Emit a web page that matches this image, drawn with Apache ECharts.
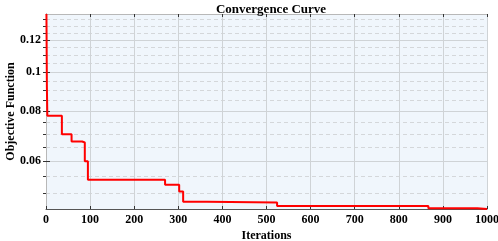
<!DOCTYPE html>
<html>
<head>
<meta charset="utf-8">
<script src="https://cdn.jsdelivr.net/npm/echarts@6/dist/echarts.min.js"></script>
<style>
  html, body { margin: 0; padding: 0; background: #fff; }
  #chart { width: 498px; height: 241px; }
</style>
</head>
<body>
<div id="chart"></div>
<script>
// iterations where the best value changes, and the best value from there on
const iterations = [1, 2, 3, 36, 58, 82, 88, 95, 270, 302, 311, 365, 524, 867, 978, 1000]
const bestValues = [0.1392, 0.092, 0.0778, 0.0700, 0.0672, 0.0668, 0.0600, 0.0540, 0.0525, 0.0505, 0.0476, 0.0474, 0.0465, 0.0459, 0.0457, 0.0457]

const yMajor = [0.06, 0.08, 0.1, 0.12]
const yMinor = [0.05, 0.055, 0.065, 0.07, 0.075, 0.085, 0.09, 0.095, 0.105, 0.11, 0.115, 0.125, 0.13, 0.135]
const yMin = 0.0457
const yMax = 0.1392

const font = 'Liberation Serif'
const chart = echarts.init(document.getElementById('chart'))

chart.setOption({
  animation: false,
  title: {
    text: 'Convergence Curve',
    left: 266,
    textAlign: 'center',
    top: -2,
    textStyle: { fontFamily: font, fontWeight: 'bold', fontSize: 13, color: '#000' },
  },
  grid: {
    left: 46, right: 11, top: 14, bottom: 32,
    containLabel: false, outerBoundsMode: 'none',
    show: true, backgroundColor: '#f0f6fc', borderWidth: 0,
  },
  xAxis: [
    {
      type: 'value',
      min: 0,
      max: 1000,
      interval: 100,
      name: 'Iterations',
      nameLocation: 'middle',
      nameGap: 21,
      nameMoveOverlap: false,
      nameTextStyle: { fontFamily: font, fontWeight: 'bold', fontSize: 12, color: '#000' },
      axisLine: { lineStyle: { color: '#555', width: 1 } },
      axisTick: { inside: true, length: 3, lineStyle: { color: '#333' } },
      axisLabel: {
        fontFamily: font, fontWeight: 'bold', fontSize: 12, color: '#000', margin: 5,
        formatter: (v) => String(v),
      },
      splitLine: { show: true, lineStyle: { color: '#cfd3d6', width: 1 } },
    },
    {
      type: 'value',
      position: 'top',
      min: 0,
      max: 1000,
      interval: 100,
      axisLine: { lineStyle: { color: '#b8b8b8', width: 1 } },
      axisTick: { inside: true, length: 3, lineStyle: { color: '#333' } },
      axisLabel: { show: false },
      splitLine: { show: false },
    },
  ],
  yAxis: [
    {
      type: 'log',
      min: yMin,
      max: yMax,
      name: 'Objective Function',
      nameLocation: 'middle',
      nameGap: 29,
      nameMoveOverlap: false,
      nameTextStyle: { fontFamily: font, fontWeight: 'bold', fontSize: 12, color: '#000' },
      axisLine: { show: true, lineStyle: { color: '#555', width: 1 } },
      axisTick: { inside: true, length: 4, customValues: yMajor, lineStyle: { color: '#333' } },
      axisLabel: {
        customValues: yMajor,
        fontFamily: font, fontWeight: 'bold', fontSize: 12, color: '#000', margin: 5,
        formatter: (v) => String(+v.toPrecision(2)),
      },
      splitLine: { show: true, lineStyle: { color: '#cfd3d6', width: 1 } },
    },
    {
      type: 'log',
      position: 'right',
      min: yMin,
      max: yMax,
      axisLine: { show: true, lineStyle: { color: '#b8b8b8', width: 1 } },
      axisTick: { inside: true, length: 3, customValues: yMajor.concat(yMinor), lineStyle: { color: '#333' } },
      axisLabel: { show: false },
      splitLine: { show: false },
    },
    {
      type: 'log',
      position: 'right',
      min: yMin,
      max: yMax,
      axisLine: { show: false },
      axisTick: { show: false, customValues: yMinor },
      axisLabel: { show: false },
      splitLine: { show: true, lineStyle: { color: '#d4d7da', width: 1, type: [4, 3] } },
    },
  ],
  series: [
    {
      type: 'line',
      step: 'end',
      showSymbol: false,
      data: iterations.map((it, i) => [it, bestValues[i]]),
      lineStyle: { color: '#ff0000', width: 2 },
      z: 5,
    },
  ],
})
</script>
</body>
</html>
